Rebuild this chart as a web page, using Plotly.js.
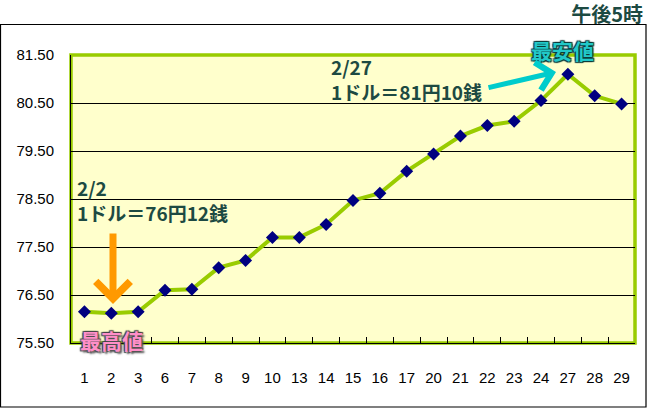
<!DOCTYPE html>
<html>
<head>
<meta charset="utf-8">
<script src="https://cdn.plot.ly/plotly-3.0.1.min.js"></script>
<style>html,body{margin:0;padding:0;background:#fff;}#chart{width:647px;height:408px;}</style>
</head>
<body>
<div id="chart"></div>
<script>
// Data (USD/JPY at 5 pm, February)
const days = ['1','2','3','6','7','8','9','10','13','14','15','16','17','20','21','22','23','24','27','28','29'];
const rates = [76.15, 76.12, 76.15, 76.60, 76.62, 77.07, 77.22, 77.70, 77.70, 77.97, 78.47, 78.62, 79.08, 79.44, 79.81, 80.03, 80.12, 80.55, 81.10, 80.65, 80.48];
const yTicks = [75.5, 76.5, 77.5, 78.5, 79.5, 80.5, 81.5];
const yTickText = ['75.50', '76.50', '77.50', '78.50', '79.50', '80.50', '81.50'];
const chartTitle = '午後5時';
const lowNote = ['2/2', '1ドル＝76円12銭', '最高値'];
const highNote = ['2/27', '1ドル＝81円10銭', '最安値'];

const W = 647, H = 408, mL = 71, mR = 12, mT = 55, mB = 65;
const pw = W - mL - mR, ph = H - mT - mB;
const px = v => (v - mL) / pw;
const py = v => (H - mB - v) / ph;

const textColor = '#1d4a42';
const jp = '"Noto Sans CJK JP", "Noto Sans", sans-serif';
const tickFont = {family: '"Liberation Sans", Arial, sans-serif', size: 15, color: '#000'};

const trace = {
  type: 'scatter', mode: 'lines+markers',
  x: days, y: rates,
  line: {color: '#99CC00', width: 4},
  marker: {symbol: 'diamond', size: 10, color: '#000080', line: {width: 0}},
  hoverinfo: 'x+y'
};

const annFont = (size, color, extra) => Object.assign({family: jp, size: size, color: color, weight: 700}, extra || {});

const layout = {
  width: W, height: H,
  margin: {l: mL, r: mR, t: mT, b: mB},
  paper_bgcolor: '#ffffff',
  plot_bgcolor: '#FFFFCC',
  showlegend: false,
  title: {text: chartTitle, xref: 'container', yref: 'container', x: 0.994, xanchor: 'right', y: 1 - 15 / H, yanchor: 'middle',
          font: annFont(20, textColor)},
  xaxis: {
    type: 'category', range: [-0.5, days.length - 0.5],
    showline: true, linecolor: '#000', linewidth: 1,
    ticks: 'inside', tickson: 'boundaries', ticklen: 6, tickcolor: '#000',
    showgrid: false, zeroline: false, fixedrange: true,
    tickfont: tickFont, ticklabelstandoff: 21
  },
  yaxis: {
    range: [75.5, 81.5], tickvals: yTicks, ticktext: yTickText,
    showline: true, linecolor: '#000', linewidth: 1,
    ticks: 'inside', ticklen: 5, tickcolor: '#000',
    showgrid: true, gridcolor: '#000', gridwidth: 1, zeroline: false, fixedrange: true,
    tickfont: tickFont, ticklabelstandoff: 13
  },
  shapes: [
    {type: 'rect', xref: 'paper', yref: 'paper', x0: 0, x1: 1, y0: 0, y1: 1,
     line: {color: '#99CC00', width: 3.5}, layer: 'below'},
    {type: 'rect', xref: 'paper', yref: 'paper', x0: px(0.5), x1: px(646), y0: py(407), y1: py(24.5),
     line: {color: '#000', width: 1.2}, fillcolor: 'rgba(0,0,0,0)', layer: 'above'}
  ],
  annotations: [
    {xref: 'paper', yref: 'paper', x: px(329), y: py(79), xanchor: 'left', yanchor: 'middle', align: 'left', showarrow: false,
     text: highNote[0] + '<br>' + highNote[1], font: annFont(19, textColor)},
    {xref: 'paper', yref: 'paper', x: px(562), y: py(50), xanchor: 'center', yanchor: 'middle', showarrow: false,
     text: highNote[2], font: annFont(21, '#22C8C8', {shadow: '1px 1px 1px #0a3a3a, -1px -1px 1px #0a3a3a, 1px -1px 1px #0a3a3a, -1px 1px 1px #0a3a3a'})},
    {xref: 'paper', yref: 'paper', x: px(75), y: py(200), xanchor: 'left', yanchor: 'middle', align: 'left', showarrow: false,
     text: lowNote[0] + '<br>' + lowNote[1], font: annFont(19, textColor)},
    {xref: 'paper', yref: 'paper', x: px(111), y: py(340), xanchor: 'center', yanchor: 'middle', showarrow: false,
     text: lowNote[2], font: annFont(21, '#FF8FC8', {shadow: '2px 2px 2px #555, -1px -1px 1px #444, 1px -1px 1px #444, -1px 1px 1px #444'})},
    // cyan arrow to the low-yen point
    {xref: 'paper', yref: 'paper', x: px(556), y: py(72), ax: -69, ay: 16, text: '', showarrow: true,
     arrowhead: 4, arrowsize: 1.1, arrowwidth: 5, arrowcolor: '#00CCCC'},
    // orange arrow to the high-yen point
    {xref: 'paper', yref: 'paper', x: px(113), y: py(304), ax: 0, ay: -72, text: '', showarrow: true,
     arrowhead: 4, arrowsize: 0.95, arrowwidth: 7, arrowcolor: '#FF9900'}
  ]
};

Plotly.newPlot('chart', [trace], layout, {staticPlot: true, displayModeBar: false});
</script>
</body>
</html>
